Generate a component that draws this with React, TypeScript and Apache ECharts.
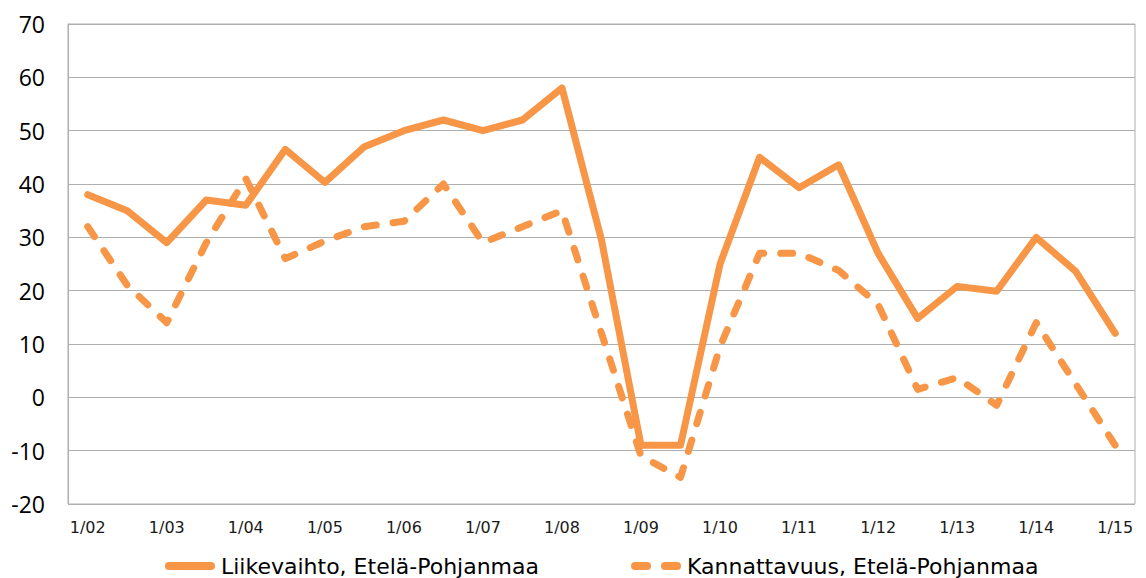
import React, { useEffect, useRef } from "react";
import * as echarts from "echarts";

const categories = [
  "1/02", "7/02", "1/03", "7/03", "1/04", "7/04", "1/05", "7/05", "1/06", "7/06",
  "1/07", "7/07", "1/08", "7/08", "1/09", "7/09", "1/10", "7/10", "1/11", "7/11",
  "1/12", "7/12", "1/13", "7/13", "1/14", "7/14", "1/15",
];

const liikevaihto = [
  38, 35, 29, 37, 36, 46.5, 40.3, 47, 50, 52, 50, 52, 58, 29.5, -9, -9, 25, 45,
  39.3, 43.6, 27, 14.8, 20.8, 19.9, 30, 23.6, 12,
];

const kannattavuus = [
  32, 21, 14, 29, 41, 26, 29.3, 32, 33, 40, 29, 32, 35, 12, -11, -15, 9.5, 27,
  27, 23.8, 17.4, 1.5, 3.7, -1.5, 14, 2.5, -9,
];

const seriesNames = ["Liikevaihto, Etelä-Pohjanmaa", "Kannattavuus, Etelä-Pohjanmaa"];

const ORANGE = "#F79646";
const GRID_GRAY = "#AFAFAF";

const SOLID_ICON = "path://M4,0 L46,0 A4,4 0 0 1 46,8 L4,8 A4,4 0 0 1 4,0 Z";
const DASHED_ICON =
  "path://M4,0 L16,0 A4,4 0 0 1 16,8 L4,8 A4,4 0 0 1 4,0 Z M34,0 L46,0 A4,4 0 0 1 46,8 L34,8 A4,4 0 0 1 34,0 Z";

export default function App() {
  const ref = useRef<HTMLDivElement>(null);

  useEffect(() => {
    if (!ref.current) return;
    const chart = echarts.init(ref.current, undefined, { renderer: "svg" });
    chart.setOption({
      animation: false,
      backgroundColor: "#ffffff",
      grid: {
        left: 68,
        right: 11,
        top: 24,
        bottom: 74,
        show: true,
        borderColor: GRID_GRAY,
        borderWidth: 1,
      },
      legend: {
        left: 160,
        top: 550,
        itemWidth: 52,
        itemHeight: 8,
        itemGap: 92,
        itemStyle: { color: ORANGE, borderWidth: 0 },
        textStyle: {
          fontFamily: "DejaVu Sans",
          fontSize: 22,
          color: "#000000",
        },
        data: [
          { name: seriesNames[0], icon: SOLID_ICON },
          { name: seriesNames[1], icon: DASHED_ICON },
        ],
      },
      xAxis: {
        type: "category",
        data: categories,
        boundaryGap: true,
        axisLine: { show: true, lineStyle: { color: GRID_GRAY, width: 1 } },
        axisTick: { show: false },
        axisLabel: {
          interval: 1,
          margin: 15,
          fontFamily: "DejaVu Sans",
          fontSize: 16,
          color: "#1a1a1a",
        },
        splitLine: { show: false },
      },
      yAxis: {
        type: "value",
        min: -20,
        max: 70,
        interval: 10,
        axisLine: { show: true, lineStyle: { color: GRID_GRAY, width: 1 } },
        axisTick: { show: false },
        axisLabel: {
          margin: 23,
          fontFamily: "Open Sans",
          fontSize: 23,
          color: "#000000",
        },
        splitLine: { show: true, lineStyle: { color: GRID_GRAY, width: 1 } },
      },
      series: [
        {
          name: seriesNames[0],
          type: "line",
          data: liikevaihto,
          symbol: "none",
          showSymbol: false,
          lineStyle: { color: ORANGE, width: 7, cap: "round", join: "round" },
          itemStyle: { color: ORANGE },
        },
        {
          name: seriesNames[1],
          type: "line",
          data: kannattavuus,
          symbol: "none",
          showSymbol: false,
          lineStyle: {
            color: ORANGE,
            width: 7,
            type: [12, 17],
            cap: "round",
            join: "round",
          },
          itemStyle: { color: ORANGE },
        },
      ],
    });
    return () => chart.dispose();
  }, []);

  return (
    <div
      ref={ref}
      style={{ position: "absolute", left: 0, top: 0, width: 1146, height: 578 }}
    />
  );
}
